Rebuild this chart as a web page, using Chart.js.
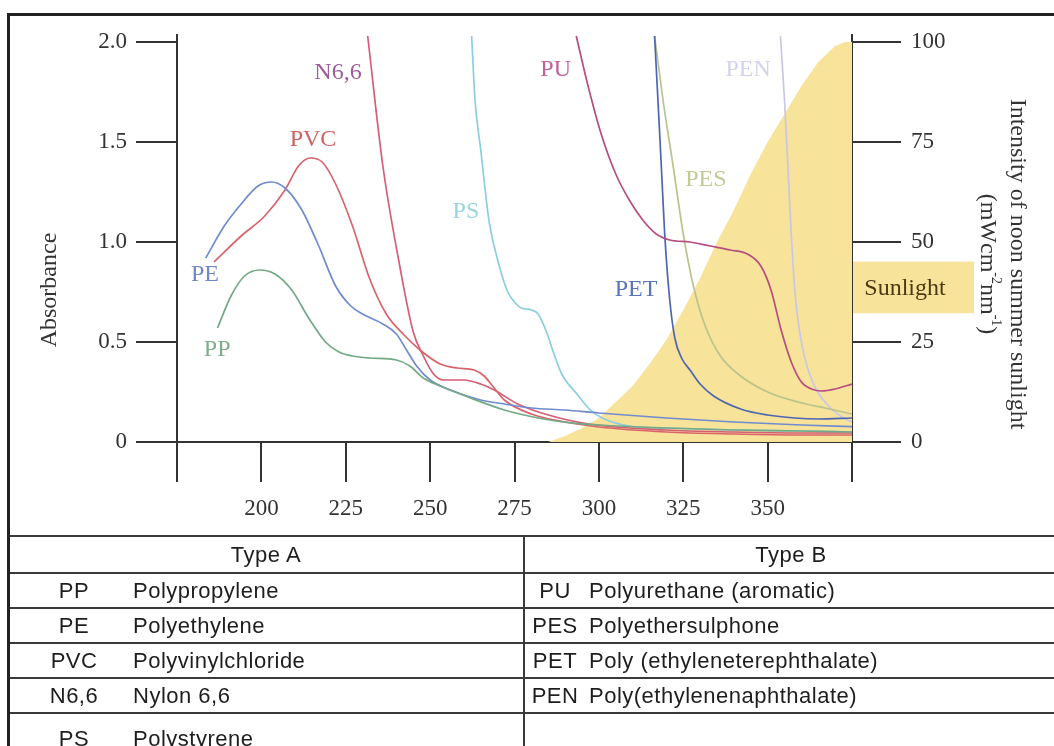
<!DOCTYPE html>
<html>
<head>
<meta charset="utf-8">
<script src="https://cdn.jsdelivr.net/npm/chart.js@4.4.1/dist/chart.umd.min.js"></script>
<style>
  html, body { margin: 0; padding: 0; background: #fff; }
  body { width: 1054px; height: 746px; position: relative; overflow: hidden; }
  #chartBox { position: absolute; left: 0; top: 0; width: 1054px; height: 536px; }
  #frame { position: absolute; left: 7px; top: 13px; width: 1100px; height: 800px;
           border-top: 3px solid #222; border-left: 3px solid #222; pointer-events: none; }
  #legendTable { position: absolute; left: 7px; top: 535px; width: 1050px; border-collapse: collapse;
                 table-layout: fixed; font-family: "Liberation Sans", Arial, sans-serif; font-size: 22px;
                 letter-spacing: 0.5px; color: #1e1e1e; }
  #legendTable td { border: 2px solid #3a3a3a; padding: 0; white-space: nowrap; vertical-align: middle; }
  #legendTable tr { height: 35px; }
  #legendTable tr.head { height: 37px; }
  #legendTable tr.last td { vertical-align: top; padding-top: 12px; }
  #legendTable td.hd { text-align: center; }
  .ab { display: inline-block; text-align: center; }
  .colA .ab { width: 118px; margin-left: 6px; }
  .colB .ab { width: 60px; }
  .colB .nm { padding-left: 4px; }
</style>
</head>
<body>
<div id="chartBox"><canvas id="graphique" width="1054" height="536"></canvas></div>
<table id="legendTable">
  <colgroup><col style="width:516px"><col style="width:534px"></colgroup>
  <tbody id="legendBody"></tbody>
</table>
<div id="frame"></div>
<script>
// wavelength (nm) / absorbance
var ppNm  = [187, 191, 195, 199.5, 204, 209, 214, 219, 223, 227, 232, 240, 244, 248, 253, 262, 272, 282, 291, 300, 320, 340, 360, 375]
var ppAbs = [0.57, 0.73, 0.83, 0.86, 0.84, 0.76, 0.62, 0.50, 0.45, 0.43, 0.42, 0.41, 0.38, 0.32, 0.28, 0.22, 0.16, 0.12, 0.097, 0.085, 0.07, 0.06, 0.055, 0.05]

var peNm  = [183.5, 189, 194, 199, 203, 207, 212, 217, 222, 226.5, 230, 236, 240, 243, 246, 250, 256, 265, 272, 280, 290, 300, 320, 340, 360, 375]
var peAbs = [0.92, 1.08, 1.19, 1.28, 1.30, 1.27, 1.16, 0.98, 0.78, 0.68, 0.64, 0.59, 0.54, 0.46, 0.38, 0.31, 0.26, 0.21, 0.19, 0.17, 0.16, 0.145, 0.12, 0.10, 0.085, 0.077]

var pvcNm  = [186, 194, 201, 207, 211, 214.5, 218, 222, 227, 232, 237, 242, 247, 253, 258, 263, 266, 268.5, 272, 280, 290, 300, 320, 340, 360, 375]
var pvcAbs = [0.90, 1.03, 1.13, 1.26, 1.38, 1.42, 1.40, 1.29, 1.08, 0.82, 0.64, 0.54, 0.46, 0.39, 0.37, 0.36, 0.33, 0.28, 0.21, 0.14, 0.10, 0.075, 0.05, 0.04, 0.035, 0.035]

var n66Nm  = [231.5, 236, 241, 245, 248, 251, 254, 260, 265, 269, 276, 284, 297, 320, 340, 360, 375]
var n66Abs = [2.03, 1.38, 0.88, 0.55, 0.43, 0.34, 0.31, 0.31, 0.29, 0.26, 0.19, 0.14, 0.09, 0.06, 0.05, 0.045, 0.045]

var psNm  = [262.3, 263.3, 265, 267.5, 270.5, 273, 275, 277, 280, 282, 284.5, 286.5, 289, 293.5, 297.5, 301, 309, 320, 340, 360, 375]
var psAbs = [2.03, 1.71, 1.46, 1.10, 0.88, 0.75, 0.70, 0.67, 0.66, 0.64, 0.55, 0.45, 0.34, 0.24, 0.16, 0.12, 0.08, 0.07, 0.06, 0.055, 0.05]

var puNm  = [293.3, 296.5, 300.5, 305, 309, 313, 317, 321, 327, 333, 339, 344, 348, 351, 354, 357, 360, 363, 366, 370, 375]
var puAbs = [2.03, 1.80, 1.55, 1.34, 1.21, 1.11, 1.04, 1.01, 1.00, 0.98, 0.96, 0.94, 0.88, 0.76, 0.56, 0.40, 0.30, 0.265, 0.255, 0.265, 0.29]

var petNm  = [316.5, 317.5, 318.5, 319.5, 321, 322.5, 324.5, 327, 330, 334, 342, 350, 358, 365, 375]
var petAbs = [2.03, 1.71, 1.38, 1.04, 0.71, 0.52, 0.42, 0.36, 0.29, 0.23, 0.165, 0.135, 0.12, 0.115, 0.12]

var pesNm  = [316.5, 319, 322, 325, 328, 331.5, 336, 342, 350, 359, 367, 375]
var pesAbs = [2.03, 1.71, 1.38, 1.04, 0.78, 0.58, 0.43, 0.33, 0.25, 0.20, 0.17, 0.14]

var penNm  = [353.8, 355, 356, 357, 358.3, 360, 362, 364.5, 368, 372, 375]
var penAbs = [2.03, 1.71, 1.38, 1.04, 0.71, 0.50, 0.36, 0.26, 0.18, 0.125, 0.10]

// noon summer sunlight (mW cm-2 nm-1)
var sunNm  = [285, 290, 295, 300, 305, 310, 315, 320, 325, 330, 335, 340, 345, 350, 355, 360, 365, 370, 373, 375]
var sunInt = [0, 1.5, 3.5, 6, 10, 14, 19.5, 25.5, 33, 41, 50, 58, 67, 75, 82, 89, 95, 99, 100, 100]

var xTicks  = [175, 200, 225, 250, 275, 300, 325, 350, 375]
var yTicks  = [0, 0.5, 1.0, 1.5, 2.0]
var y2Ticks = [0, 25, 50, 75, 100]

var series = [
    {name: 'PP',   nm: ppNm,  abs: ppAbs,  line: '#74a986', text: '#7eae8e', labelNm: 186.9, labelAbs: 0.46},
    {name: 'PE',   nm: peNm,  abs: peAbs,  line: '#6f8ccf', text: '#6f88cc', labelNm: 183.3, labelAbs: 0.835},
    {name: 'PVC',  nm: pvcNm, abs: pvcAbs, line: '#d9646c', text: '#d5605f', labelNm: 215.3, labelAbs: 1.51},
    {name: 'N6,6', nm: n66Nm, abs: n66Abs, line: '#d45f76', text: '#9c5e96', labelNm: 222.7, labelAbs: 1.845},
    {name: 'PS',   nm: psNm,  abs: psAbs,  line: '#8ccde2', text: '#9ad3e3', labelNm: 260.6, labelAbs: 1.15},
    {name: 'PU',   nm: puNm,  abs: puAbs,  line: '#b74d80', text: '#c0629a', labelNm: 287.2, labelAbs: 1.86},
    {name: 'PET',  nm: petNm, abs: petAbs, line: '#4d66b2', text: '#5a73bd', labelNm: 311,   labelAbs: 0.76},
    {name: 'PES',  nm: pesNm, abs: pesAbs, line: '#b9c48c', text: '#c3cb95', labelNm: 331.7, labelAbs: 1.31},
    {name: 'PEN',  nm: penNm, abs: penAbs, line: '#c9c7e6', text: '#d2d2ee', labelNm: 344.2, labelAbs: 1.86}
]

var typeA = [['PP', 'Polypropylene'], ['PE', 'Polyethylene'], ['PVC', 'Polyvinylchloride'], ['N6,6', 'Nylon 6,6'], ['PS', 'Polystyrene']]
var typeB = [['PU', 'Polyurethane (aromatic)'], ['PES', 'Polyethersulphone'], ['PET', 'Poly (ethyleneterephthalate)'], ['PEN', 'Poly(ethylenenaphthalate)'], ['', '']]

var SERIF = '"Liberation Serif", "Times New Roman", serif'
var SUN = '#f8e39a'
var AXIS = '#333333'

// table under the chart
var body = document.getElementById('legendBody')
var head = '<tr class="head"><td class="hd">Type A</td><td class="hd">Type B</td></tr>'
var rows = typeA.map(function (a, i) {
    var b = typeB[i]
    var cls = i === typeA.length - 1 ? ' class="last"' : ''
    return '<tr' + cls + '><td class="colA"><span class="ab">' + a[0] + '</span><span class="nm">' + a[1] + '</span></td>' +
        '<td class="colB"><span class="ab">' + b[0] + '</span><span class="nm">' + b[1] + '</span></td></tr>'
})
body.innerHTML = head + rows.join('')

var datasets = series.map(function (s) {
    return {
        label: s.name,
        data: s.nm.map(function (x, i) { return {x: x, y: s.abs[i]} }),
        borderColor: s.line,
        borderWidth: 1.7,
        pointRadius: 0,
        fill: false,
        cubicInterpolationMode: 'monotone',
        yAxisID: 'y',
        order: 0
    }
})
datasets.push({
    label: 'Sunlight',
    data: sunNm.map(function (x, i) { return {x: x, y: sunInt[i]} }),
    borderWidth: 0,
    borderColor: SUN,
    backgroundColor: SUN,
    pointRadius: 0,
    fill: 'origin',
    tension: 0,
    yAxisID: 'y2',
    order: 5
})

var extras = {
    id: 'extras',
    afterDraw: function (chart) {
        var ctx = chart.ctx
        var x = chart.scales.x, y = chart.scales.y, y2 = chart.scales.y2
        var area = chart.chartArea
        ctx.save()
        // curve labels
        ctx.font = '24px ' + SERIF
        ctx.textAlign = 'center'
        ctx.textBaseline = 'middle'
        series.forEach(function (s) {
            ctx.fillStyle = s.text
            ctx.fillText(s.name, x.getPixelForValue(s.labelNm), y.getPixelForValue(s.labelAbs))
        })
        // left title
        ctx.fillStyle = AXIS
        ctx.save()
        ctx.translate(50, 290)
        ctx.rotate(-Math.PI / 2)
        ctx.fillText('Absorbance', 0, 0)
        ctx.restore()
        // sunlight key
        var top = y2.getPixelForValue(45.1), bot = y2.getPixelForValue(32.2)
        ctx.fillStyle = SUN
        ctx.fillRect(area.right + 1, top, 121, bot - top)
        ctx.fillStyle = '#4a3a12'
        ctx.fillText('Sunlight', area.right + 53, (top + bot) / 2 + 1)
        // right title
        ctx.fillStyle = AXIS
        ctx.save()
        ctx.translate(1017, 264)
        ctx.rotate(Math.PI / 2)
        ctx.fillText('Intensity of noon summer sunlight', 0, 0)
        ctx.restore()
        var parts = [['(mWcm', 0], ['-2', 1], ['nm', 0], ['-1', 1], [')', 0]]
        var big = '24px ' + SERIF, small = '14px ' + SERIF
        var total = 0
        parts.forEach(function (p) { ctx.font = p[1] ? small : big; total += ctx.measureText(p[0]).width })
        ctx.save()
        ctx.translate(987, 264)
        ctx.rotate(Math.PI / 2)
        ctx.textAlign = 'left'
        var pos = -total / 2
        parts.forEach(function (p) {
            ctx.font = p[1] ? small : big
            ctx.fillText(p[0], pos, p[1] ? -9 : 0)
            pos += ctx.measureText(p[0]).width
        })
        ctx.restore()
        ctx.restore()
    }
}

var ctx = document.getElementById('graphique')
var chart = new Chart(ctx, {
    type: 'line',
    data: {datasets: datasets},
    options: {
        responsive: false,
        animation: false,
        devicePixelRatio: 1,
        layout: {padding: {top: 35, left: 0, right: 0, bottom: 0}},
        plugins: {legend: {display: false}, tooltip: {enabled: false}},
        scales: {
            x: {
                type: 'linear', position: 'bottom', min: 175, max: 375,
                afterBuildTicks: function (s) { s.ticks = xTicks.map(function (v) { return {value: v} }) },
                afterFit: function (s) { s.height = 94 },
                ticks: {
                    autoSkip: false, maxRotation: 0, padding: 13, color: AXIS,
                    font: {family: SERIF, size: 23},
                    callback: function (v) { return (v === 175 || v === 375) ? '' : v }
                },
                grid: {drawOnChartArea: false, tickLength: 40, color: AXIS, lineWidth: 2},
                border: {display: true, color: AXIS, width: 2}
            },
            y: {
                type: 'linear', position: 'left', min: 0, max: 2.035,
                afterBuildTicks: function (s) { s.ticks = yTicks.map(function (v) { return {value: v} }) },
                afterFit: function (s) { s.width = 177 },
                ticks: {
                    padding: 9, color: AXIS, font: {family: SERIF, size: 23},
                    callback: function (v) { return v === 0 ? '0' : v.toFixed(1) }
                },
                grid: {drawOnChartArea: false, tickLength: 41, color: AXIS, lineWidth: 2},
                border: {display: true, color: AXIS, width: 2}
            },
            y2: {
                type: 'linear', position: 'right', min: 0, max: 101.75,
                afterBuildTicks: function (s) { s.ticks = y2Ticks.map(function (v) { return {value: v} }) },
                afterFit: function (s) { s.width = 202 },
                ticks: {padding: 10, color: AXIS, font: {family: SERIF, size: 23}},
                grid: {drawOnChartArea: false, tickLength: 49, color: AXIS, lineWidth: 2},
                border: {display: true, color: AXIS, width: 2}
            }
        }
    },
    plugins: [extras]
})
</script>
</body>
</html>
